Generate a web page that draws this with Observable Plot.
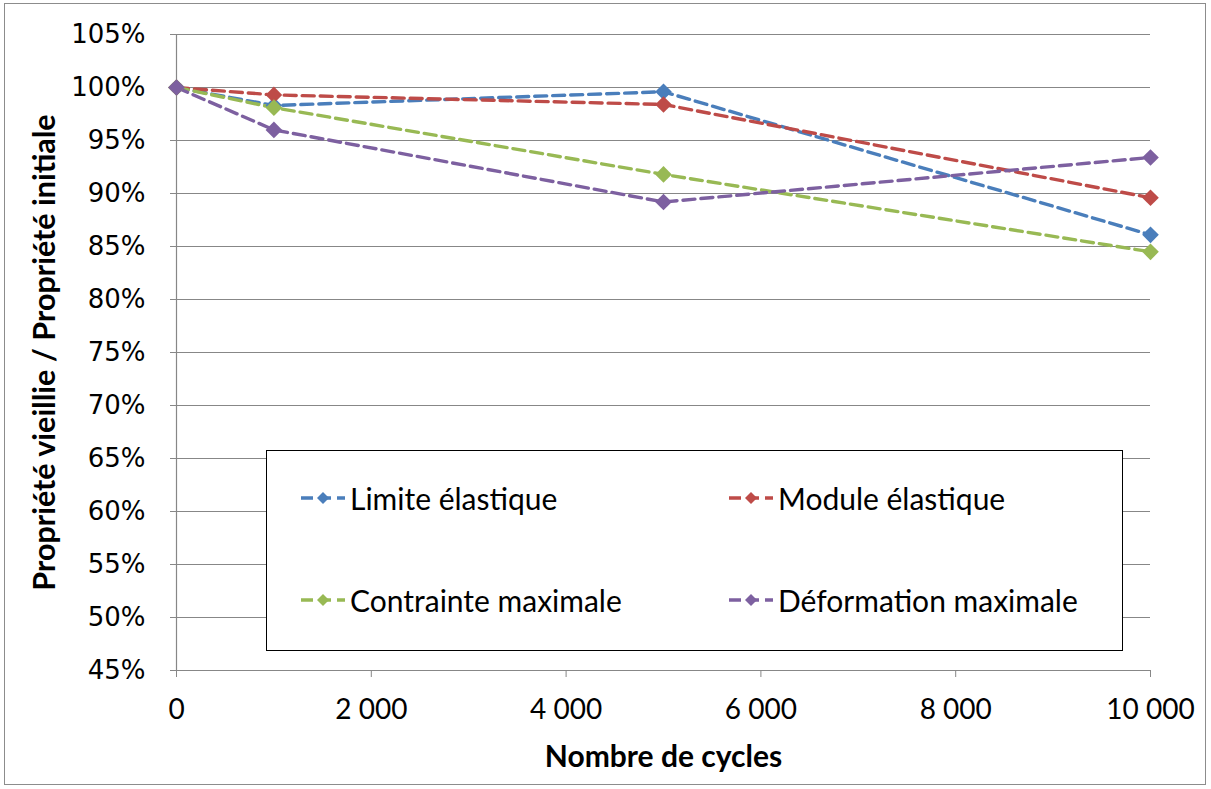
<!DOCTYPE html>
<html>
<head>
<meta charset="utf-8">
<script src="https://cdn.jsdelivr.net/npm/d3@7"></script>
<script src="https://cdn.jsdelivr.net/npm/@observablehq/plot@0.6"></script>
<style>
  html, body { margin: 0; padding: 0; background: #fff; }
  #wrap { position: relative; width: 1211px; height: 789px; }
  #border { position: absolute; left: 4px; top: 3px; width: 1202px; height: 782px; border: 1px solid #8c8c8c; box-sizing: border-box; pointer-events: none; }
  #legend { position: absolute; left: 266px; top: 450px; width: 857px; height: 201px; border: 1px solid #000; background: #fff; box-sizing: border-box;
            font-family: Lato, "Open Sans", sans-serif; font-size: 30px; color: #000; }
  .item { position: absolute; display: flex; align-items: center; }
  .item svg { margin-right: 4px; }
</style>
</head>
<body>
<div id="wrap">
  <div id="chart"></div>
  <div id="legend"></div>
  <div id="border"></div>
</div>
<script>
const cycles = [0, 1000, 5000, 10000];
const limiteElastique = [1.000, 0.983, 0.996, 0.861];
const moduleElastique = [1.000, 0.993, 0.984, 0.896];
const contrainteMaximale = [1.000, 0.981, 0.918, 0.845];
const deformationMaximale = [1.000, 0.960, 0.892, 0.934];
const seriesNames = ["Limite élastique", "Module élastique", "Contrainte maximale", "Déformation maximale"];
const seriesColors = ["#4A7EBB", "#BE4B48", "#98B954", "#7D60A0"];
const yTicks = [0.45, 0.50, 0.55, 0.60, 0.65, 0.70, 0.75, 0.80, 0.85, 0.90, 0.95, 1.00, 1.05];
const yTickLabels = ["45%", "50%", "55%", "60%", "65%", "70%", "75%", "80%", "85%", "90%", "95%", "100%", "105%"];
const xTicks = [0, 2000, 4000, 6000, 8000, 10000];
const xTickLabels = ["0", "2 000", "4 000", "6 000", "8 000", "10 000"];
const xTitle = "Nombre de cycles";
const yTitle = "Propriété vieillie / Propriété initiale";

const allSeries = [limiteElastique, moduleElastique, contrainteMaximale, deformationMaximale];
const table = [];
allSeries.forEach((vals, si) => vals.forEach((v, i) => table.push({series: seriesNames[si], cycles: cycles[i], value: v})));

const narrow = "Lato, 'Open Sans', sans-serif";
const grid = "#878787";

const chart = Plot.plot({
  width: 1211,
  height: 789,
  marginLeft: 176,
  marginRight: 61,
  marginTop: 34,
  marginBottom: 119,
  style: {background: "transparent", color: "#000"},
  x: {type: "linear", domain: [0, 10000]},
  y: {type: "linear", domain: [0.45, 1.05]},
  color: {domain: seriesNames, range: seriesColors},
  marks: [
    Plot.ruleY(yTicks, {stroke: grid, strokeWidth: 1.2}),
    Plot.ruleX([0], {stroke: grid, strokeWidth: 1.2}),
    Plot.axisY({ticks: yTicks, tickFormat: d => yTickLabels[yTicks.indexOf(d)], tickSize: 6, tickPadding: 25,
                stroke: grid, fill: "#000", fontSize: 26, fontFamily: "'DejaVu Sans', Verdana, sans-serif", label: null}),
    Plot.axisX({ticks: xTicks, tickFormat: d => xTickLabels[xTicks.indexOf(d)], tickSize: 7, tickPadding: 22,
                stroke: grid, fill: "#000", fontSize: 28, fontFamily: narrow, label: null}),
    Plot.line(table, {x: "cycles", y: "value", z: "series", stroke: "series", strokeWidth: 3.4, strokeDasharray: "12,6"}),
    Plot.dot(table, {x: "cycles", y: "value", fill: "series", symbol: "diamond2", r: 7.5}),
    Plot.text([xTitle], {frameAnchor: "bottom", dy: 96, fontSize: 30, fontWeight: "bold", fontFamily: narrow, fill: "#000"}),
    Plot.text([yTitle], {frameAnchor: "left", textAnchor: "middle", dx: -131, rotate: -90, fontSize: 30.5, fontWeight: "bold", fontFamily: narrow, fill: "#000"})
  ]
});
document.getElementById("chart").appendChild(chart);

const legend = document.getElementById("legend");
const positions = [[33, 47], [461, 47], [33, 149], [461, 149]];
seriesNames.forEach((name, i) => {
  const item = document.createElement("div");
  item.className = "item";
  item.style.left = positions[i][0] + "px";
  item.style.top = (positions[i][1] - 22) + "px";
  item.style.height = "44px";
  const c = seriesColors[i];
  item.innerHTML = `<svg width="46" height="20"><line x1="1" y1="10" x2="45" y2="10" stroke="${c}" stroke-width="3.4" stroke-dasharray="12,6"/><path d="M23,4 L29,10 L23,16 L17,10 Z" fill="${c}"/></svg><span>${name}</span>`;
  legend.appendChild(item);
});
</script>
</body>
</html>
